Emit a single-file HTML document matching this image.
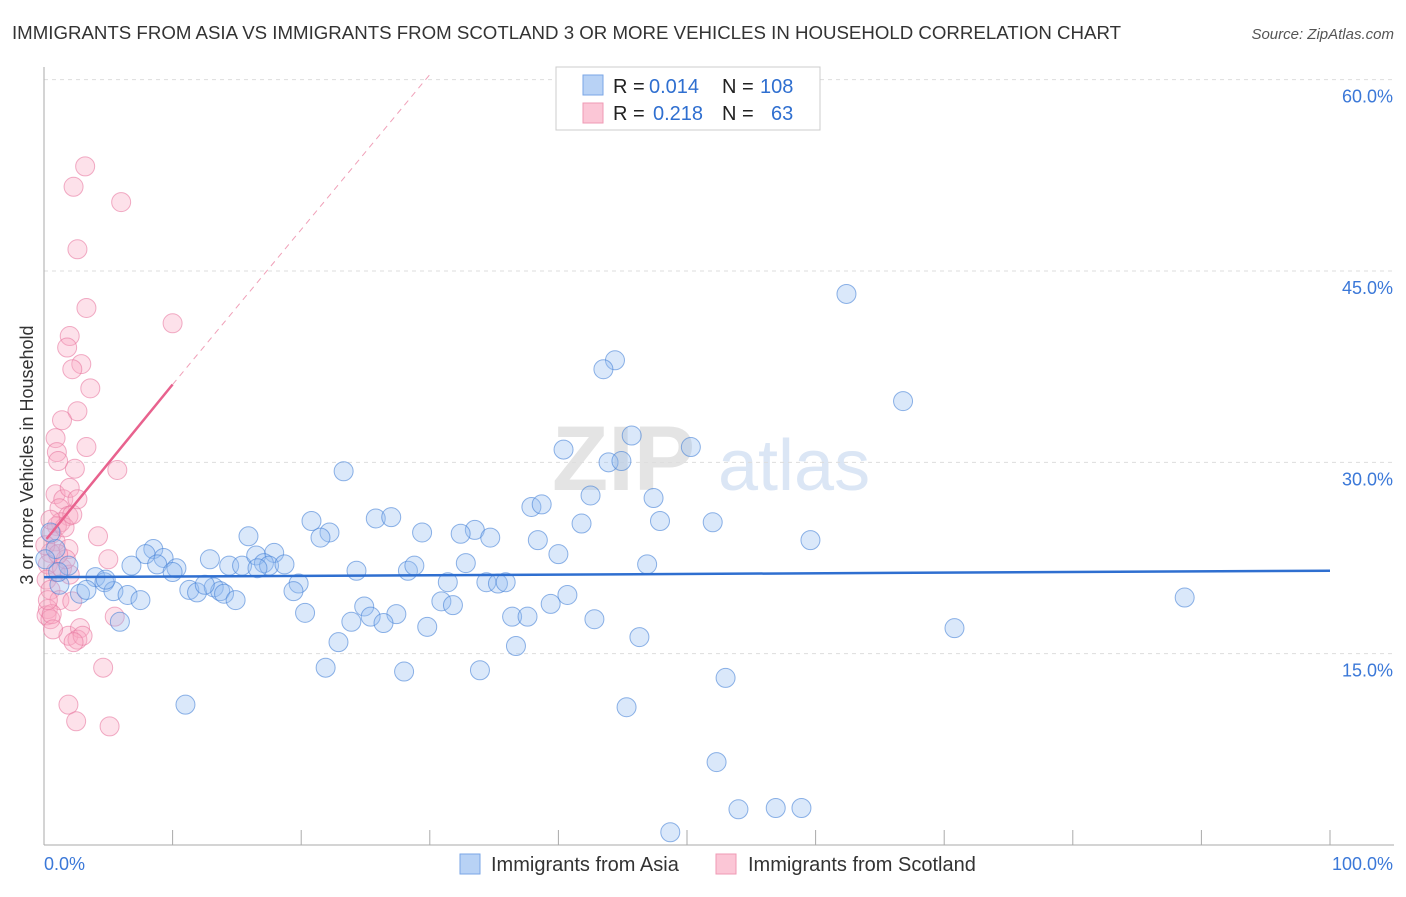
<!DOCTYPE html>
<html><head><meta charset="utf-8"><style>
body{margin:0;background:#fff;font-family:"Liberation Sans",sans-serif;}
svg text{font-family:"Liberation Sans",sans-serif;}
</style></head><body>
<svg id="chart" width="1406" height="892" xmlns="http://www.w3.org/2000/svg">
<text x="12" y="39" font-size="18" fill="#333" textLength="1109" lengthAdjust="spacingAndGlyphs">IMMIGRANTS FROM ASIA VS IMMIGRANTS FROM SCOTLAND 3 OR MORE VEHICLES IN HOUSEHOLD CORRELATION CHART</text>
<text x="1394" y="39" font-size="15" fill="#555" text-anchor="end" font-style="italic">Source: ZipAtlas.com</text>
<g>
<text x="552" y="490" font-size="92" fill="#e4e4e4" font-family="Liberation Serif" font-weight="bold">ZIP</text>
<text x="718" y="490" font-size="72" fill="#dbe6f5">atlas</text>
</g>
<g id="grid"></g>
<g id="axes"></g>
<g id="pink"></g>
<g id="blue"></g>
<g id="trend"></g>
<text transform="translate(33,455) rotate(-90)" font-size="18" fill="#333" text-anchor="middle">3 or more Vehicles in Household</text>
<g>
<rect x="556" y="67" width="264" height="63" fill="#fff" stroke="#ccc"/>
<rect x="583" y="75" width="20" height="20" fill="#b8d2f5" stroke="#7aa6e6"/>
<rect x="583" y="103" width="20" height="20" fill="#fbc6d6" stroke="#ef9ab4"/>
<text x="613" y="93" font-size="20" fill="#222">R =</text>
<text x="649" y="93" font-size="20" fill="#2f6fd0">0.014</text>
<text x="722" y="93" font-size="20" fill="#222">N =</text>
<text x="760" y="93" font-size="20" fill="#2f6fd0">108</text>
<text x="613" y="120" font-size="20" fill="#222">R =</text>
<text x="653" y="120" font-size="20" fill="#2f6fd0">0.218</text>
<text x="722" y="120" font-size="20" fill="#222">N =</text>
<text x="771" y="120" font-size="20" fill="#2f6fd0">63</text>
</g>
<g>
<rect x="460" y="854" width="20" height="20" fill="#b8d2f5" stroke="#7aa6e6"/>
<text x="491" y="871" font-size="20" fill="#333">Immigrants from Asia</text>
<rect x="716" y="854" width="20" height="20" fill="#fbc6d6" stroke="#ef9ab4"/>
<text x="748" y="871" font-size="20" fill="#333">Immigrants from Scotland</text>
</g>
</svg>
<script>
const yTicks=[15,30,45,60];
const yTickLabels=["15.0%","30.0%","45.0%","60.0%"];
const xTicks=[0,10,20,30,40,50,60,70,80,90,100];
const asiaX=[62.4,66.8,44.4,43.5,45.7,40.4,50.3,43.9,44.9,23.3,47.4,42.5,37.9,38.7,47.9,52.0,41.8,25.8,27.0,20.8,22.2,21.5,29.4,33.5,32.4,34.7,38.4,59.6,15.9,8.5,7.9,9.3,8.8,6.8,10.3,10.0,12.9,14.4,15.4,16.5,17.9,17.1,17.5,18.7,16.6,32.8,40.0,46.9,24.3,28.3,28.8,31.4,34.4,35.3,35.9,19.8,11.3,11.9,13.2,13.7,14.0,14.9,12.5,19.4,40.7,30.9,31.8,39.4,24.9,20.3,25.4,27.4,23.9,26.4,29.8,36.4,37.6,42.8,5.9,46.3,22.9,21.9,28.0,33.9,36.7,53.0,45.3,11.0,52.3,54.0,56.9,58.9,48.7,70.8,88.7,1.9,1.2,2.8,4.0,4.7,3.3,5.4,6.5,7.5,0.9,0.5,0.1,1.1,4.8];
const asiaY=[43.2,34.8,38.0,37.3,32.1,31.0,31.2,30.0,30.1,29.3,27.2,27.4,26.5,26.7,25.4,25.3,25.2,25.6,25.7,25.4,24.5,24.1,24.5,24.7,24.4,24.1,23.9,23.9,24.2,23.2,22.8,22.5,22.0,21.9,21.7,21.4,22.4,21.9,21.9,22.7,22.9,22.1,21.9,22.0,21.7,22.1,22.8,22.0,21.5,21.5,21.9,20.6,20.6,20.5,20.6,20.5,20.0,19.8,20.2,19.9,19.7,19.2,20.4,19.9,19.6,19.1,18.8,18.9,18.7,18.2,17.9,18.1,17.5,17.4,17.1,17.9,17.9,17.7,17.5,16.3,15.9,13.9,13.6,13.7,15.6,13.1,10.8,11.0,6.5,2.8,2.9,2.9,1.0,17.0,19.4,21.9,20.4,19.7,21.0,20.6,20.0,19.9,19.6,19.2,23.2,24.5,22.4,21.4,20.8];
const scotX=[3.2,2.3,6.0,2.6,3.3,10.0,2.0,1.8,2.9,2.2,3.6,2.6,1.4,0.9,1.0,3.3,2.4,5.7,1.1,0.9,1.5,2.0,1.2,1.9,1.3,4.2,1.0,0.6,0.9,1.9,5.0,0.5,0.3,0.9,1.4,2.0,0.2,0.5,1.2,2.2,0.3,0.2,0.5,5.5,1.9,2.8,2.6,3.0,2.3,4.6,1.9,2.5,5.1,0.6,1.7,0.1,1.1,1.6,2.2,2.6,0.5,0.3,0.7];
const scotY=[53.2,51.6,50.4,46.7,42.1,40.9,39.9,39.0,37.7,37.3,35.8,34.0,33.3,31.9,30.8,31.2,29.5,29.4,30.1,27.5,27.1,28.0,26.4,25.8,25.3,24.2,25.0,24.4,23.8,23.2,22.4,22.9,22.0,21.4,21.7,21.2,20.8,20.0,19.2,19.1,18.5,18.0,17.7,17.9,16.4,17.0,16.1,16.4,15.9,13.9,11.0,9.7,9.3,18.1,22.4,23.5,22.8,24.9,25.9,27.1,25.5,19.2,16.9];
const asiaTrend=[[0,21.0],[100,21.5]];
const scotTrend=[[0.2,24.0],[10,36.1]];
const scotDash=[[10,36.1],[30,60.4]];
const NS="http://www.w3.org/2000/svg";
const X=v=>44+v*12.86, Y=v=>845-v*12.756;
function mk(t,a,p){const e=document.createElementNS(NS,t);for(const k in a)e.setAttribute(k,a[k]);p.appendChild(e);return e;}
const grid=document.getElementById('grid'),axes=document.getElementById('axes');
yTicks.forEach((t,i)=>{
 const l=mk('line',{x1:44,x2:1394,y1:Y(t),y2:Y(t),stroke:'#ddd','stroke-dasharray':'4,4'},grid);
 
 
 const tx=mk('text',{x:1393,y:Y(t)+23,'font-size':18,fill:'#3b78d8','text-anchor':'end'},axes);
 tx.textContent=yTickLabels[i];
 
 
});
const ya=mk('line',{x1:44,x2:44,y1:67,y2:845,stroke:'#aaa'},axes);


const xa=mk('line',{x1:44,x2:1394,y1:845,y2:845,stroke:'#aaa'},axes);


xTicks.forEach(t=>{const l=mk('line',{x1:X(t),x2:X(t),y1:830,y2:845,stroke:'#aaa'},axes);
 
 });
const x0=mk('text',{x:44,y:870,'font-size':18,fill:'#3b78d8'},axes);x0.textContent='0.0%';


const x1=mk('text',{x:1393,y:870,'font-size':18,fill:'#3b78d8','text-anchor':'end'},axes);x1.textContent='100.0%';


const pg=document.getElementById('pink'),bg=document.getElementById('blue');
scotX.forEach((v,i)=>{const c=mk('circle',{cx:X(v),cy:Y(scotY[i]),r:9.5,fill:'rgba(248,170,196,0.35)',stroke:'rgba(232,120,160,0.6)','stroke-width':1},pg);
 
 });
asiaX.forEach((v,i)=>{const c=mk('circle',{cx:X(v),cy:Y(asiaY[i]),r:9.5,fill:'rgba(150,190,240,0.35)',stroke:'rgba(70,130,215,0.6)','stroke-width':1},bg);
 
 });
const tg=document.getElementById('trend');
const b=mk('line',{x1:X(asiaTrend[0][0]),y1:Y(asiaTrend[0][1]),x2:X(asiaTrend[1][0]),y2:Y(asiaTrend[1][1]),stroke:'#2f6fd0','stroke-width':2.5},tg);


const p=mk('line',{x1:X(scotTrend[0][0]),y1:Y(scotTrend[0][1]),x2:X(scotTrend[1][0]),y2:Y(scotTrend[1][1]),stroke:'#e8628e','stroke-width':2.5},tg);


const d=mk('line',{x1:X(scotDash[0][0]),y1:Y(scotDash[0][1]),x2:X(scotDash[1][0]),y2:Y(scotDash[1][1]),stroke:'#f0a0b8','stroke-width':1,'stroke-dasharray':'6,5'},tg);


</script>
</body></html>
